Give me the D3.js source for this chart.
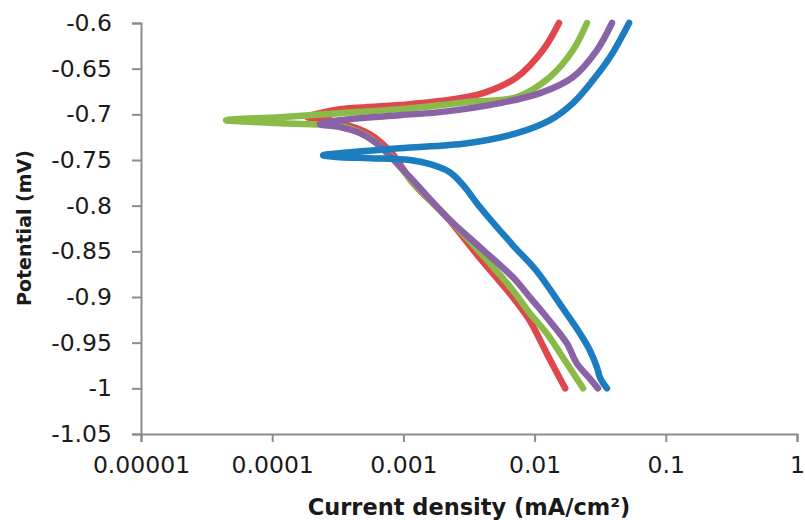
<!DOCTYPE html>
<html>
<head>
<meta charset="utf-8">
<script src="https://cdn.jsdelivr.net/npm/d3@7"></script>
<style>
  html, body { margin: 0; padding: 0; background: #fff; }
  svg { display: block; }
  text { font-family: "DejaVu Sans", sans-serif; fill: #1a1a1a; }
</style>
</head>
<body>
<svg id="chart" width="805" height="520"></svg>
<script>
// ---- data (current density in mA/cm2, potential) ----
const xTicks = [0.00001, 0.0001, 0.001, 0.01, 0.1, 1];
const xTickLabels = ["0.00001", "0.0001", "0.001", "0.01", "0.1", "1"];
const yTicks = [-0.6, -0.65, -0.7, -0.75, -0.8, -0.85, -0.9, -0.95, -1, -1.05];
const yTickLabels = ["-0.6", "-0.65", "-0.7", "-0.75", "-0.8", "-0.85", "-0.9", "-0.95", "-1", "-1.05"];

const redCurrent = [0.0171, 0.0124, 0.0092, 0.0068, 0.0038, 0.00215, 0.00118, 0.000818, 0.000556, 0.000359, 0.000275, 0.000184,
  0.000231, 0.000329, 0.00094, 0.0019, 0.00405, 0.00734, 0.01159, 0.01535];
const redPotential = [-1.0, -0.962, -0.926, -0.900, -0.857, -0.813, -0.775, -0.7425, -0.7217, -0.7108, -0.7064, -0.703,
  -0.6987, -0.6943, -0.6899, -0.6855, -0.6768, -0.6592, -0.6296, -0.6];

const greenCurrent = [0.0234, 0.01644, 0.0124, 0.00922, 0.00684, 0.00384, 0.00215, 0.00118, 0.00079, 0.000525, 0.000359, 0.000275, 0.000115, 0.0000445,
  0.000115, 0.000329, 0.00094, 0.0019, 0.00306, 0.00734, 0.01309, 0.01963, 0.02506];
const greenPotential = [-1.0, -0.9662, -0.940, -0.918, -0.8928, -0.851, -0.8127, -0.7743, -0.7447, -0.7239, -0.714, -0.7118, -0.7097, -0.7064,
  -0.7031, -0.6987, -0.6943, -0.690, -0.6865, -0.6811, -0.6592, -0.6296, -0.6];

const purpleCurrent = [0.0304, 0.0264, 0.0210, 0.01765, 0.0124, 0.00922, 0.00684, 0.00384, 0.00215, 0.00118, 0.00079, 0.000608, 0.000467, 0.000329, 0.000231,
  0.000329, 0.00094, 0.0019, 0.00544, 0.0110, 0.0196, 0.0299, 0.0389];
const purplePotential = [-1.0, -0.9893, -0.9728, -0.9509, -0.9224, -0.9004, -0.8785, -0.8456, -0.8127, -0.7721, -0.7458, -0.7305, -0.7206, -0.714, -0.7108,
  -0.7064, -0.7009, -0.6976, -0.6877, -0.6768, -0.6592, -0.6296, -0.6];

const blueCurrent = [0.0356, 0.0315, 0.0299, 0.0264, 0.0222, 0.01644, 0.01026, 0.00684, 0.00384, 0.00285, 0.00226, 0.0016, 0.00112, 0.000556, 0.000329, 0.000244,
  0.000329, 0.00094, 0.00306, 0.00734, 0.0131, 0.0196, 0.0279, 0.0376, 0.0448, 0.0525];
const bluePotential = [-1.0, -0.9882, -0.9772, -0.9586, -0.940, -0.9125, -0.8708, -0.8434, -0.8018, -0.7776, -0.7634, -0.7546, -0.750, -0.748, -0.7469, -0.7447,
  -0.7425, -0.7371, -0.7316, -0.7206, -0.7064, -0.6877, -0.6625, -0.6373, -0.6186, -0.6];

const seriesColors = ["#E0474C", "#8ABB49", "#8A62A6", "#1B7CC0"];
const series = [
  { current: redCurrent, potential: redPotential },
  { current: greenCurrent, potential: greenPotential },
  { current: purpleCurrent, potential: purplePotential },
  { current: blueCurrent, potential: bluePotential }
];

// ---- layout ----
const svg = d3.select("#chart");
const x = d3.scaleLog().domain([0.00001, 1]).range([141, 797]);
const y = d3.scaleLinear().domain([-1.05, -0.6]).range([434, 23]);
const axisColor = "#8c8c8c";

// curves
const line = d3.line()
  .x(d => x(d[0]))
  .y(d => y(d[1]))
  .curve(d3.curveCatmullRom.alpha(0.5));

series.forEach((s, i) => {
  const pts = s.current.map((c, k) => [c, s.potential[k]]);
  svg.append("path")
    .attr("d", line(pts))
    .attr("fill", "none")
    .attr("stroke", seriesColors[i])
    .attr("stroke-width", 6.5)
    .attr("stroke-linecap", "round")
    .attr("stroke-linejoin", "round");
});

// y axis
const yAxis = d3.axisLeft(y).tickValues(yTicks)
  .tickFormat((d, i) => yTickLabels[i]).tickSize(9).tickPadding(20);
const gy = svg.append("g").attr("transform", "translate(141,0)").call(yAxis);
gy.select(".domain").attr("stroke", axisColor).attr("stroke-width", 2);
gy.selectAll(".tick line").attr("stroke", axisColor).attr("stroke-width", 2);
gy.selectAll(".tick text").attr("font-size", 23.5).attr("font-family", "DejaVu Sans, sans-serif").attr("fill", "#1a1a1a");

// x axis
const xAxis = d3.axisBottom(x).tickValues(xTicks)
  .tickFormat((d, i) => xTickLabels[i]).tickSize(8).tickPadding(14);
const gx = svg.append("g").attr("transform", "translate(0,434)").call(xAxis);
gx.select(".domain").attr("stroke", axisColor).attr("stroke-width", 2);
gx.selectAll(".tick line").attr("stroke", axisColor).attr("stroke-width", 2);
gx.selectAll(".tick text").attr("font-size", 23.5).attr("font-family", "DejaVu Sans, sans-serif").attr("fill", "#1a1a1a");

// axis titles
svg.append("text")
  .attr("x", 469).attr("y", 515)
  .attr("text-anchor", "middle")
  .attr("font-size", 22.5).attr("font-weight", "bold")
  .text("Current density (mA/cm²)");

svg.append("text")
  .attr("transform", "translate(31,228) rotate(-90)")
  .attr("text-anchor", "middle")
  .attr("font-size", 19).attr("font-weight", "bold")
  .text("Potential (mV)");
</script>
</body>
</html>
